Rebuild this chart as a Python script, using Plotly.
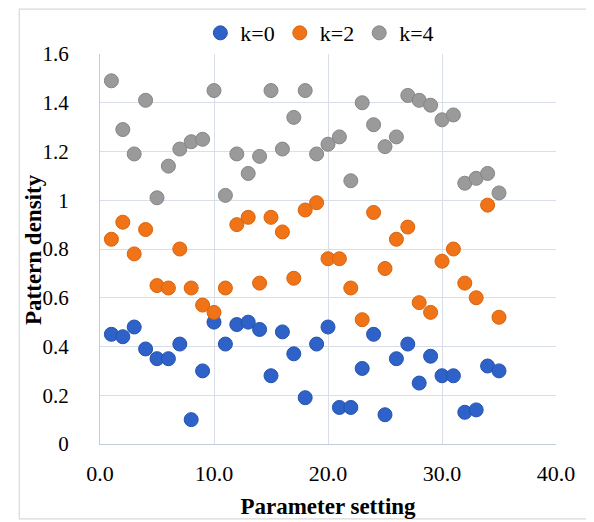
import plotly.graph_objects as go

x_vals = list(range(1, 36))
k0 = [0.45, 0.44, 0.48, 0.39, 0.35, 0.35, 0.41, 0.10, 0.30, 0.50,
      0.41, 0.49, 0.50, 0.47, 0.28, 0.46, 0.37, 0.19, 0.41, 0.48,
      0.15, 0.15, 0.31, 0.45, 0.12, 0.35, 0.41, 0.25, 0.36, 0.28,
      0.28, 0.13, 0.14, 0.32, 0.30]
k2 = [0.84, 0.91, 0.78, 0.88, 0.65, 0.64, 0.80, 0.64, 0.57, 0.54,
      0.64, 0.90, 0.93, 0.66, 0.93, 0.87, 0.68, 0.96, 0.99, 0.76,
      0.76, 0.64, 0.51, 0.95, 0.72, 0.84, 0.89, 0.58, 0.54, 0.75,
      0.80, 0.66, 0.60, 0.98, 0.52]
k4 = [1.49, 1.29, 1.19, 1.41, 1.01, 1.14, 1.21, 1.24, 1.25, 1.45,
      1.02, 1.19, 1.11, 1.18, 1.45, 1.21, 1.34, 1.45, 1.19, 1.23,
      1.26, 1.08, 1.40, 1.31, 1.22, 1.26, 1.43, 1.41, 1.39, 1.33,
      1.35, 1.07, 1.09, 1.11, 1.03]
series_names = ["k=0", "k=2", "k=4"]
series_colors = ["#2E62C8", "#F07417", "#9A9A9A"]
series_edges = ["#2553AE", "#D9640E", "#868686"]

FONT = "Liberation Serif"

fig = go.Figure()
for name, ys, col, edge in zip(series_names, [k0, k2, k4], series_colors, series_edges):
    fig.add_trace(go.Scatter(
        x=x_vals, y=ys, mode="markers", name=name,
        marker=dict(size=14, color=col, line=dict(color=edge, width=1)),
    ))

grid = "#D9DFE8"
axis_line = "#C3CCDA"
fig.update_layout(
    width=594, height=522,
    margin=dict(l=92, r=46, t=46, b=86, autoexpand=False),
    paper_bgcolor="white", plot_bgcolor="white",
    font=dict(family=FONT, size=21, color="black"),
    showlegend=True,
    legend=dict(orientation="h", xref="container", yref="container",
                x=0.525, xanchor="center", y=0.952, yanchor="middle",
                font=dict(family=FONT, size=22, color="black"),
                itemwidth=30, tracegroupgap=0,
                bgcolor="rgba(0,0,0,0)"),
    xaxis=dict(range=[0, 40], dtick=10, tick0=0, tickformat=".1f",
               showgrid=True, gridcolor=grid, gridwidth=1,
               showline=True, linecolor=axis_line, linewidth=1,
               zeroline=False, ticks="", ticklabelstandoff=10, automargin=False,
               tickfont=dict(family=FONT, size=22, color="black"),
               title=dict(text="<b>Parameter setting</b>", standoff=12,
                          font=dict(family=FONT, size=23, color="black"))),
    yaxis=dict(range=[0, 1.6], dtick=0.2, tick0=0,
               showgrid=True, gridcolor=grid, gridwidth=1,
               showline=True, linecolor=axis_line, linewidth=1,
               zeroline=False, ticks="", ticklabelstandoff=26, automargin=False,
               tickfont=dict(family=FONT, size=21, color="black")),
    annotations=[dict(text="<b>Pattern density</b>", xref="paper", yref="paper",
                      x=-0.147, y=0.5, xanchor="center", yanchor="middle",
                      textangle=-90, showarrow=False,
                      font=dict(family=FONT, size=23, color="black"))],
    shapes=[dict(type="rect", xref="paper", yref="paper",
                 x0=-0.177, x1=1.076, y0=-0.192, y1=1.115,
                 line=dict(color="#D9D9D9", width=1.2), fillcolor="rgba(0,0,0,0)",
                 layer="below")],
)

fig.write_html("out.html")
